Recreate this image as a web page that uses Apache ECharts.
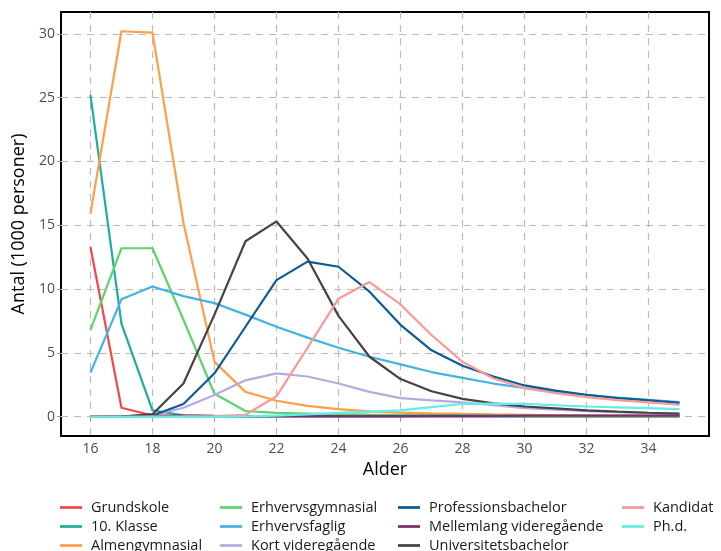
<!DOCTYPE html>
<html>
<head>
<meta charset="utf-8">
<script src="https://cdn.jsdelivr.net/npm/echarts@6/dist/echarts.min.js"></script>
<style>html,body{margin:0;padding:0;background:#fff}#c{width:721px;height:551px}</style>
</head>
<body>
<div id="c"></div>
<script>
const ages = [16,17,18,19,20,21,22,23,24,25,26,27,28,29,30,31,32,33,34,35];
const xTicks = [16,18,20,22,24,26,28,30,32,34];
const yTicks = [0,5,10,15,20,25,30];

const grundskole = [13.3,0.7,0.1,0.05,0.03,0.02,0.02,0.02,0.02,0.02,0.02,0.02,0.02,0.02,0.02,0.02,0.02,0.02,0.02,0.02];
const klasse10 = [25.2,7.3,0.5,0.1,0.05,0.03,0.02,0.02,0.02,0.02,0.02,0.02,0.02,0.02,0.02,0.02,0.02,0.02,0.02,0.02];
const almengym = [15.9,30.2,30.1,15.2,4.3,1.95,1.25,0.85,0.6,0.42,0.32,0.26,0.22,0.18,0.15,0.12,0.1,0.09,0.08,0.07];
const erhvgym = [6.8,13.2,13.2,7.6,1.8,0.45,0.3,0.25,0.2,0.17,0.15,0.13,0.12,0.1,0.09,0.08,0.07,0.06,0.06,0.05];
const erhvfag = [3.45,9.2,10.2,9.45,8.9,8.0,7.05,6.2,5.4,4.7,4.1,3.5,3.05,2.6,2.25,1.95,1.7,1.5,1.32,1.15];
const kortvid = [0,0.02,0.1,0.7,1.7,2.85,3.4,3.15,2.6,1.95,1.46,1.28,1.12,0.9,0.68,0.55,0.44,0.36,0.29,0.23];
const profbach = [0,0.02,0.1,1.0,3.4,7.05,10.7,12.15,11.75,9.8,7.2,5.2,4.0,3.15,2.45,2.05,1.72,1.46,1.28,1.08];
const mellemvid = [0,0.01,0.05,0.08,0.06,0.05,0.05,0.05,0.05,0.05,0.05,0.06,0.06,0.07,0.08,0.08,0.08,0.08,0.08,0.08];
const univbach = [0,0.01,0.2,2.6,8.0,13.75,15.3,12.4,7.9,4.7,2.95,2.0,1.4,1.05,0.8,0.65,0.5,0.4,0.31,0.24];
const kandidat = [0,0,0.01,0.02,0.05,0.15,1.6,5.4,9.25,10.55,8.8,6.4,4.3,3.0,2.24,1.85,1.54,1.3,1.12,0.94];
const phd = [0,0,0,0,0,0.02,0.08,0.18,0.3,0.4,0.5,0.75,1.0,1.02,1.0,0.9,0.8,0.74,0.68,0.6];

const seriesNames = ['Grundskole','10. Klasse','Almengymnasial','Erhvervsgymnasial','Erhvervsfaglig','Kort videregående','Professionsbachelor','Mellemlang videregående','Universitetsbachelor','Kandidat','Ph.d.'];
const seriesData = [grundskole,klasse10,almengym,erhvgym,erhvfag,kortvid,profbach,mellemvid,univbach,kandidat,phd];
const colors = ['#F4474A','#1DAE9C','#FF9F4A','#5CD36E','#44B2E3','#B8A8E0','#0D5C91','#7E2D72','#444444','#F79A98','#62EDE6'];

const legendCols = [
  ['Grundskole','10. Klasse','Almengymnasial'],
  ['Erhvervsgymnasial','Erhvervsfaglig','Kort videregående'],
  ['Professionsbachelor','Mellemlang videregående','Universitetsbachelor'],
  ['Kandidat','Ph.d.']
];
const legendLeft = [60, 220, 398, 622];

const FONT = 'Open Sans';
const chart = echarts.init(document.getElementById('c'), null, {renderer:'canvas'});

const option = {
  backgroundColor: '#fff',
  animation: false,
  color: colors,
  textStyle: {fontFamily: FONT},
  grid: {left: 61, top: 12, width: 648, height: 424, show: true, borderColor: '#000', borderWidth: 2, backgroundColor: 'transparent', outerBoundsMode: 'none'},
  legend: legendCols.map((col, i) => ({
    data: col,
    orient: 'vertical',
    left: legendLeft[i],
    top: 500,
    height: 70,
    padding: 0,
    itemWidth: 22,
    itemHeight: 14,
    itemGap: 4,
    icon: 'path://M0,5.5 L24,5.5 L24,8.5 L0,8.5 Z',
    textStyle: {fontFamily: FONT, fontSize: 14.5, lineHeight: 14, color: '#1a1a1a', padding: [0,0,0,4]},
    selectedMode: false
  })),
  xAxis: {
    type: 'value', min: 15.05, max: 35.95, splitNumber: 10,
    name: 'Alder', nameLocation: 'middle', nameGap: 24,
    nameTextStyle: {fontFamily: FONT, fontSize: 18, color: '#000'},
    axisLine: {show: false},
    axisTick: {show: true, length: 4, lineStyle: {color: '#999'}, customValues: xTicks},
    axisLabel: {fontFamily: FONT, fontSize: 14, color: '#4d4d4d', margin: 6, customValues: xTicks,
      formatter: v => (xTicks.indexOf(v) >= 0 ? String(v) : '')},
    splitLine: {show: true, lineStyle: {color: '#bbbbbb', type: [7,6], width: 1.2}}
  },
  yAxis: {
    type: 'value', min: -1.51, max: 31.71, splitNumber: 6,
    name: 'Antal (1000 personer)', nameLocation: 'middle', nameGap: 32,
    nameTextStyle: {fontFamily: FONT, fontSize: 18, color: '#000'},
    axisLine: {show: false},
    axisTick: {show: true, length: 4, lineStyle: {color: '#999'}, customValues: yTicks},
    axisLabel: {fontFamily: FONT, fontSize: 14, color: '#4d4d4d', margin: 6, customValues: yTicks,
      formatter: v => (yTicks.indexOf(v) >= 0 ? String(v) : '')},
    splitLine: {show: true, lineStyle: {color: '#bbbbbb', type: [7,6], width: 1.2}}
  },
  series: seriesNames.map((n, i) => ({
    name: n,
    type: 'line',
    symbol: 'none',
    data: ages.map((a, j) => [a, seriesData[i][j]]),
    lineStyle: {width: 2.2, color: colors[i]},
    itemStyle: {color: colors[i]},
    z: 2 + i
  }))
};
chart.setOption(option);
</script>
</body>
</html>
